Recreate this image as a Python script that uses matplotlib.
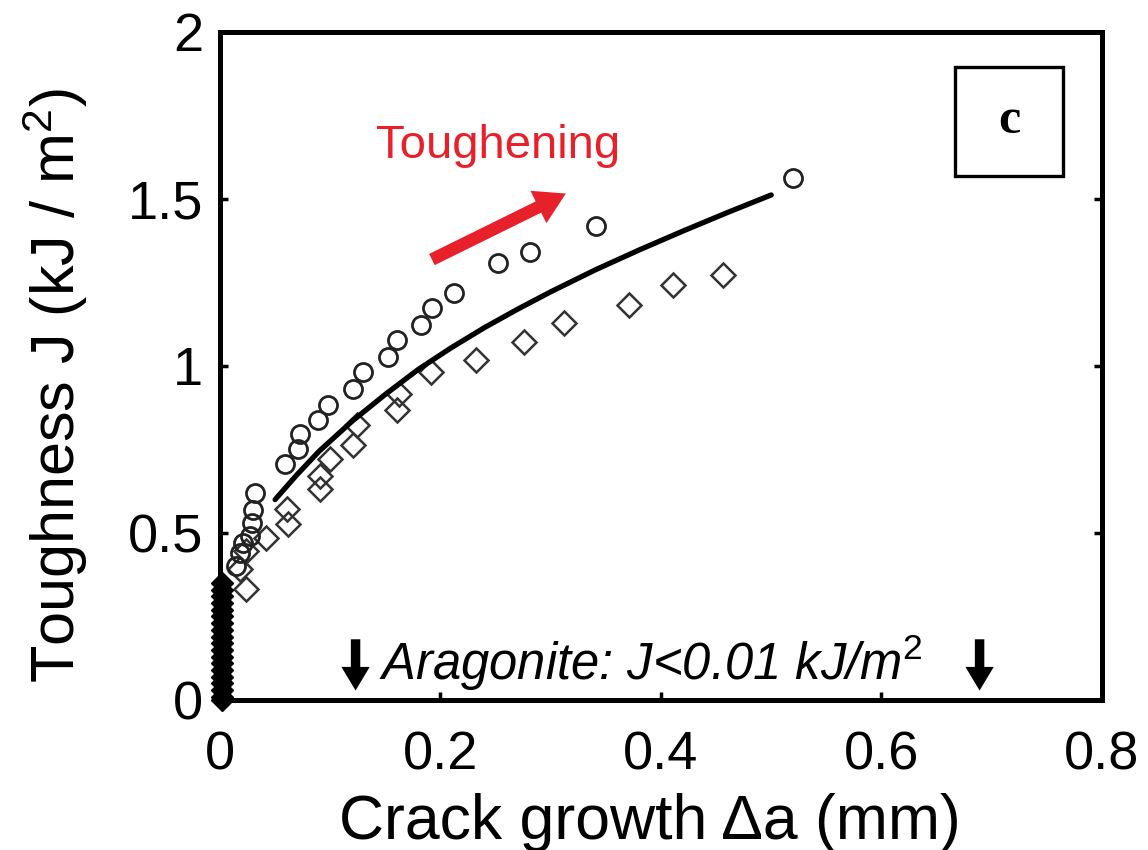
import numpy as np
import matplotlib
matplotlib.use('Agg')
import matplotlib.pyplot as plt
from matplotlib.patches import Rectangle

plt.rcParams['font.family'] = ['Liberation Sans', 'DejaVu Sans']
plt.rcParams['mathtext.fontset'] = 'custom'
plt.rcParams['mathtext.rm'] = 'Liberation Sans'
plt.rcParams['mathtext.it'] = 'Liberation Sans:italic'

# upper series (circles)
circ_x = [0.015, 0.018, 0.021, 0.027, 0.029, 0.030, 0.032, 0.059, 0.071, 0.073,
          0.089, 0.098, 0.121, 0.130, 0.152, 0.161, 0.182, 0.192, 0.212, 0.252,
          0.281, 0.341, 0.520]
circ_y = [0.40, 0.44, 0.47, 0.49, 0.53, 0.57, 0.62, 0.707, 0.752, 0.797,
          0.837, 0.882, 0.932, 0.982, 1.028, 1.078, 1.123, 1.173, 1.218, 1.308,
          1.341, 1.420, 1.564]

# lower series (diamonds)
diam_x = [0.024, 0.018, 0.024, 0.042, 0.061, 0.062, 0.091, 0.091, 0.100, 0.121,
          0.124, 0.161, 0.162, 0.191, 0.232, 0.276, 0.312, 0.371, 0.411, 0.456]
diam_y = [0.331, 0.391, 0.445, 0.486, 0.571, 0.526, 0.632, 0.672, 0.722, 0.762,
          0.822, 0.867, 0.917, 0.982, 1.017, 1.073, 1.128, 1.182, 1.242, 1.272]

# fitted curve
fit_x = [0.05, 0.07, 0.09, 0.12, 0.15, 0.18, 0.21, 0.24, 0.27, 0.30,
         0.34, 0.38, 0.42, 0.46, 0.50]
fit_y = [0.60, 0.675, 0.745, 0.835, 0.915, 0.99, 1.055, 1.115, 1.17, 1.222,
         1.287, 1.347, 1.404, 1.459, 1.512]

# aragonite values stacked at zero crack growth
arag_x = [0.002] * 19
arag_y = [0.00, 0.01, 0.03, 0.05, 0.07, 0.09, 0.11, 0.13, 0.15, 0.17,
          0.19, 0.21, 0.23, 0.25, 0.27, 0.29, 0.31, 0.33, 0.35]

xticks = [0, 0.2, 0.4, 0.6, 0.8]
xtick_labels = ['0', '0.2', '0.4', '0.6', '0.8']
yticks = [0, 0.5, 1, 1.5, 2]
ytick_labels = ['0', '0.5', '1', '1.5', '2']

fig = plt.figure(figsize=(11.48, 8.5), dpi=100)
ax = fig.add_axes([0.1916, 0.1765, 0.7683, 0.7859])

ax.plot(arag_x, arag_y, linestyle='none', marker='D', markersize=11,
        markerfacecolor='black', markeredgecolor='black', clip_on=False, zorder=4)
ax.plot(diam_x, diam_y, linestyle='none', marker='D', markersize=12.5,
        markerfacecolor='none', markeredgecolor='#333333', markeredgewidth=1.8)
ax.plot(circ_x, circ_y, linestyle='none', marker='o', markersize=13,
        markerfacecolor='none', markeredgecolor='#222222', markeredgewidth=2.0)
ax.plot(fit_x, fit_y, color='black', linewidth=3.8, solid_capstyle='round')

ax.set_xlim(0, 0.8)
ax.set_ylim(0, 2)
ax.set_xticks(xticks)
ax.set_xticklabels(xtick_labels)
ax.set_yticks(yticks)
ax.set_yticklabels(ytick_labels)
ax.tick_params(direction='in', length=6, width=2.5, labelsize=39,
               right=True, top=False)
ax.tick_params(axis='x', pad=22)
ax.tick_params(axis='y', pad=12)
for s in ax.spines.values():
    s.set_linewidth(3.6)

ax.set_xlabel('Crack growth \u0394a (mm)', fontsize=45, va='center')
ax.xaxis.set_label_coords(0.4875, -0.183)
ax.set_ylabel(r'Toughness J (kJ / m$^2$)', fontsize=44, va='center')
ax.yaxis.set_label_coords(-0.187, 0.47)

# panel label box
ax.add_patch(Rectangle((0.833, 0.784), 0.123, 0.164, transform=ax.transAxes,
                       fill=False, edgecolor='black', linewidth=2.4))
ax.text(0.8945, 0.866, 'c', transform=ax.transAxes, ha='center', va='center',
        fontsize=36, family='Liberation Serif', fontweight='bold')

# toughening arrow
ax.annotate('', xy=(0.316, 1.52), xytext=(0.19, 1.315),
            arrowprops=dict(arrowstyle='simple,head_length=1.1,head_width=1.3,tail_width=0.45',
                            color='#e8202a', lw=0, mutation_scale=20))
ax.text(0.252, 1.66, 'Toughening', color='#e8202a', fontsize=34,
        ha='center', va='center')

# aragonite note
ax.text(0.391, 0.11, r'Aragonite: J<0.01 kJ/m$^2$', fontsize=36.5, style='italic',
        ha='center', va='center')
for xa in [0.123, 0.689]:
    ax.annotate('', xy=(xa, 0.02), xytext=(xa, 0.19),
                arrowprops=dict(arrowstyle='simple,head_length=1.0,head_width=1.2,tail_width=0.4',
                                color='black', lw=0, mutation_scale=17))

fig.savefig('out.png', dpi=100)
